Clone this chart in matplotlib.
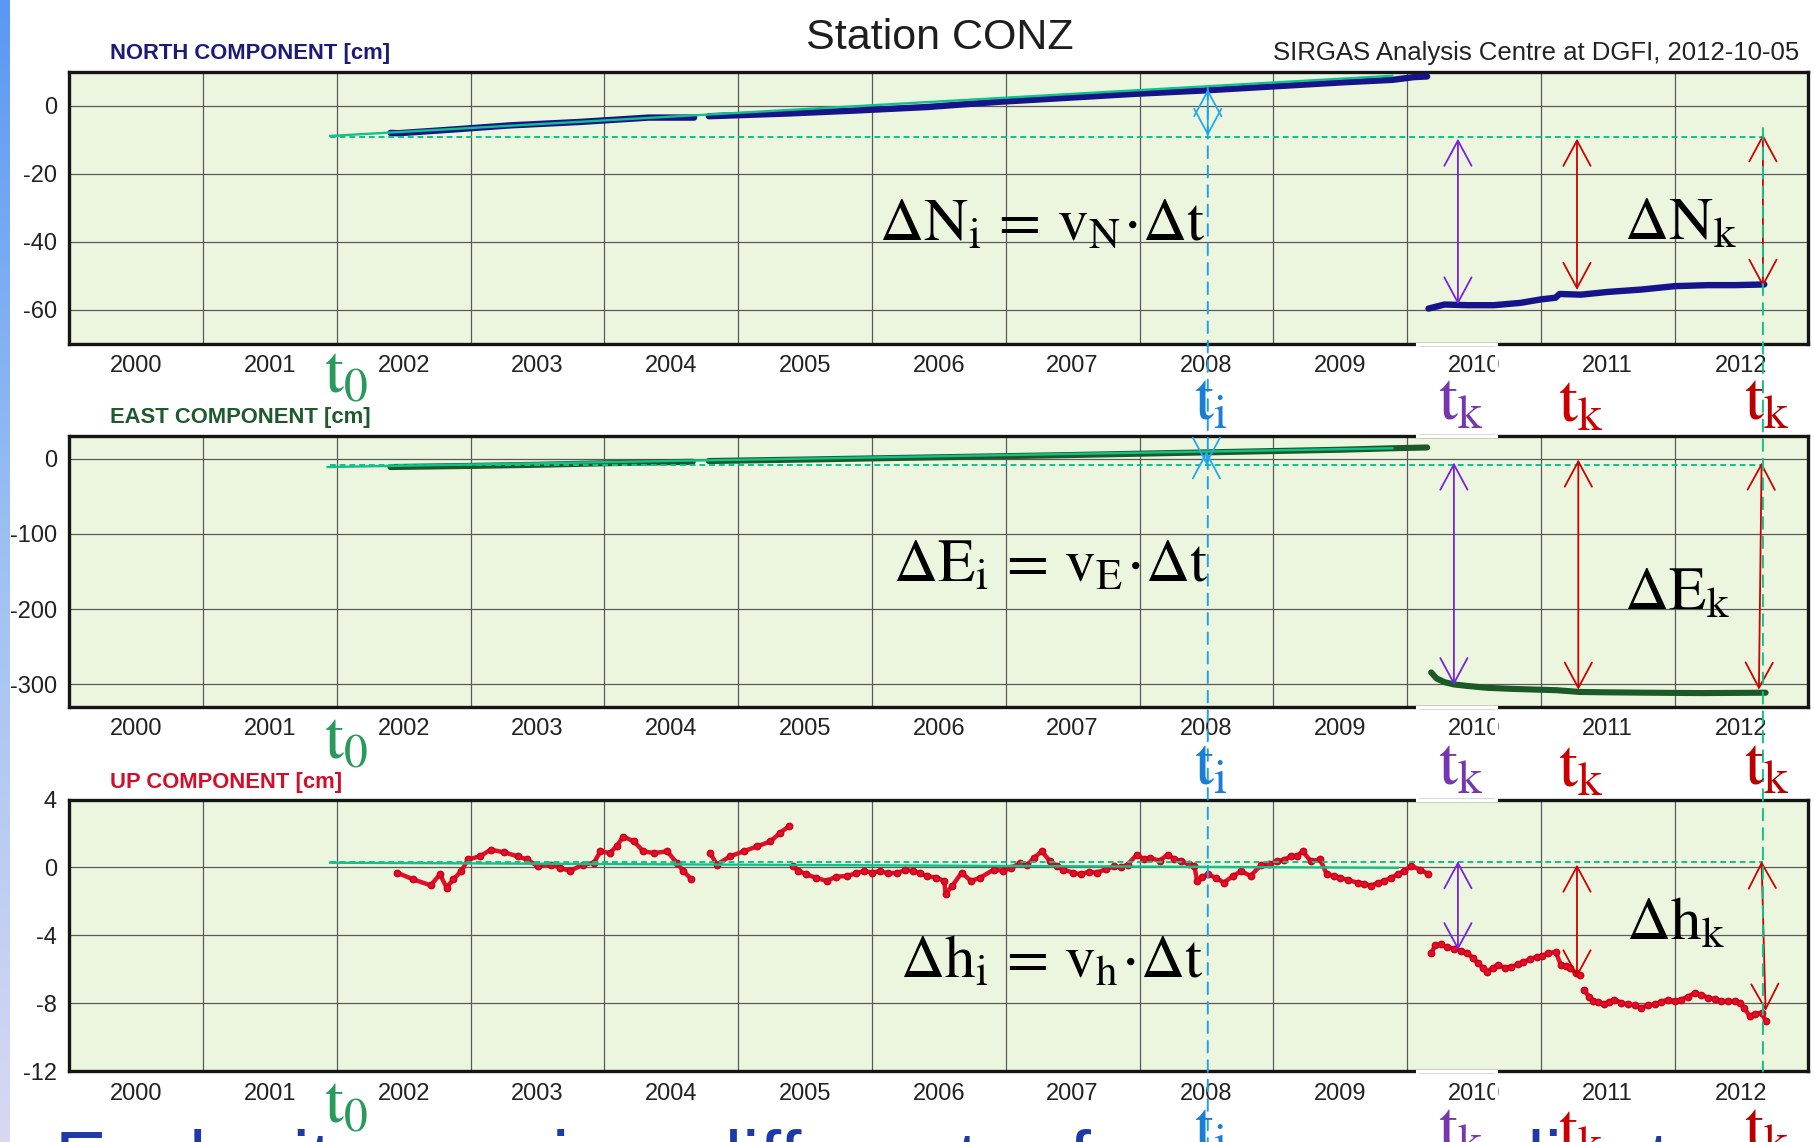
import numpy as np
import matplotlib
matplotlib.use('Agg')
import matplotlib.pyplot as plt
from matplotlib.patches import Rectangle, ConnectionPatch
from matplotlib.ticker import NullFormatter
from matplotlib.colors import LinearSegmentedColormap
import matplotlib.transforms as mtransforms

plt.rcParams['font.family'] = ['Liberation Sans', 'DejaVu Sans']
plt.rcParams['mathtext.fontset'] = 'stix'
plt.rcParams['axes.unicode_minus'] = False

# ---------------- data ----------------
year_labels = [str(y) for y in range(2000, 2013)]

north_t1 = [2002.40, 2002.46, 2002.87, 2003.29, 2003.81, 2004.33, 2004.67]
north_v1 = [-8.0, -8.1, -7.0, -5.8, -4.8, -3.5, -3.5]
north_t2 = [2004.78, 2005.37, 2005.89, 2006.41, 2006.93, 2007.45, 2007.97, 2008.49,
            2009.01, 2009.53, 2009.89, 2010.05, 2010.15]
north_v2 = [-3.1, -2.3, -1.4, -0.4, 1.1, 2.3, 3.5, 4.5, 5.7, 6.9, 7.6, 8.4, 8.6]
north_t3 = [2010.16, 2010.28, 2010.45, 2010.65, 2010.85, 2011.00, 2011.11, 2011.14,
            2011.30, 2011.50, 2011.75, 2012.00, 2012.25, 2012.45, 2012.67]
north_v3 = [-59.7, -58.5, -58.7, -58.7, -58.0, -57.0, -56.5, -55.4,
            -55.6, -54.8, -54.1, -53.1, -52.8, -52.8, -52.6]

east_t1 = [2002.40, 2003.0, 2003.5, 2004.0, 2004.66]
east_v1 = [-11.0, -9.5, -8.0, -6.0, -4.0]
east_t2 = [2004.78, 2005.5, 2006.5, 2007.5, 2008.5, 2009.5, 2009.9, 2010.15]
east_v2 = [-3.0, -1.0, 2.0, 5.0, 8.5, 12.0, 14.0, 15.0]
east_t3 = [2010.18, 2010.22, 2010.28, 2010.35, 2010.45, 2010.60, 2010.80, 2011.12,
           2011.29, 2011.5, 2011.8, 2012.2, 2012.68]
east_v3 = [-284, -292, -297, -300, -302, -304.5, -306, -307.7,
           -310, -310.5, -311, -311.5, -311]

up_t1 = [2002.45, 2002.57, 2002.70, 2002.77, 2002.82, 2002.87, 2002.93, 2002.98, 2003.07,
         2003.15, 2003.25, 2003.35, 2003.42, 2003.50, 2003.60, 2003.67, 2003.74, 2003.84,
         2003.92, 2003.97, 2004.04, 2004.09, 2004.14, 2004.22, 2004.29, 2004.37, 2004.47,
         2004.54, 2004.59, 2004.65]
up_v1 = [-0.31, -0.70, -1.05, -0.41, -1.18, -0.70, -0.21, 0.47, 0.66,
         1.05, 0.89, 0.66, 0.47, 0.08, 0.17, -0.02, -0.21, 0.17,
         0.27, 0.95, 0.85, 1.24, 1.82, 1.53, 0.95, 0.85, 0.95,
         0.27, -0.21, -0.70]
up_t2 = [2004.79, 2004.84, 2004.94, 2005.04, 2005.14, 2005.24, 2005.31, 2005.38]
up_v2 = [0.85, 0.17, 0.66, 0.95, 1.24, 1.53, 2.02, 2.44]
up_t3 = [2005.41, 2005.45, 2005.51, 2005.58, 2005.66, 2005.73, 2005.81, 2005.88, 2005.94,
         2006.00, 2006.06, 2006.12, 2006.19, 2006.25, 2006.31, 2006.36, 2006.41, 2006.48,
         2006.54, 2006.55, 2006.60, 2006.67, 2006.74, 2006.81, 2006.91, 2006.98, 2007.04,
         2007.11, 2007.16, 2007.21, 2007.27, 2007.33, 2007.38, 2007.43, 2007.50, 2007.56,
         2007.62, 2007.68, 2007.75, 2007.81, 2007.86, 2007.91, 2007.98, 2008.03, 2008.08,
         2008.15, 2008.21, 2008.26, 2008.31, 2008.37, 2008.41, 2008.43, 2008.47, 2008.51,
         2008.57, 2008.63, 2008.70, 2008.76, 2008.83, 2008.91, 2008.97, 2009.03, 2009.08,
         2009.13, 2009.18, 2009.22, 2009.28, 2009.35, 2009.40, 2009.45, 2009.50, 2009.56,
         2009.63, 2009.68, 2009.73, 2009.78, 2009.83, 2009.88, 2009.93, 2009.98, 2010.03,
         2010.10, 2010.16]
up_v3 = [0.08, -0.20, -0.41, -0.60, -0.79, -0.55, -0.50, -0.35, -0.21,
         -0.30, -0.21, -0.35, -0.31, -0.15, -0.21, -0.35, -0.50, -0.60,
         -0.79, -1.57, -1.08, -0.31, -0.79, -0.60, -0.12, -0.20, -0.02,
         0.27, 0.15, 0.56, 0.95, 0.37, 0.10, -0.12, -0.30, -0.41,
         -0.25, -0.31, -0.10, 0.08, 0.00, 0.17, 0.75, 0.50, 0.56,
         0.40, 0.75, 0.50, 0.37, 0.20, 0.08, -0.79, -0.55, -0.41,
         -0.60, -0.89, -0.50, -0.21, -0.50, 0.17, 0.20, 0.37, 0.45,
         0.66, 0.70, 0.95, 0.37, 0.47, -0.41, -0.50, -0.60, -0.75,
         -0.89, -0.95, -1.08, -0.90, -0.79, -0.60, -0.41, -0.20, 0.08,
         -0.12, -0.41]
up_t4 = [2010.18, 2010.21, 2010.25, 2010.30, 2010.35, 2010.40, 2010.45, 2010.49, 2010.53,
         2010.57, 2010.60, 2010.64, 2010.68, 2010.73, 2010.78, 2010.83, 2010.87, 2010.92,
         2010.97, 2011.01, 2011.05, 2011.11, 2011.15, 2011.19, 2011.22, 2011.26, 2011.29]
up_v4 = [-5.06, -4.57, -4.53, -4.70, -4.77, -4.90, -5.06, -5.30, -5.64,
         -5.90, -6.13, -5.90, -5.74, -5.90, -5.84, -5.70, -5.55, -5.40,
         -5.25, -5.20, -5.06, -4.96, -5.74, -5.80, -5.93, -6.20, -6.32]
up_t5 = [2011.32, 2011.36, 2011.39, 2011.43, 2011.47, 2011.51, 2011.55, 2011.60, 2011.65,
         2011.70, 2011.75, 2011.80, 2011.85, 2011.90, 2011.95, 2012.00, 2012.05, 2012.10,
         2012.15, 2012.20, 2012.25, 2012.30, 2012.35, 2012.40, 2012.45, 2012.49, 2012.52,
         2012.56, 2012.60, 2012.65, 2012.68]
up_v5 = [-7.20, -7.60, -7.87, -7.90, -8.06, -7.90, -7.77, -7.95, -8.06,
         -8.10, -8.26, -8.10, -8.06, -7.90, -7.77, -7.85, -7.77, -7.60,
         -7.38, -7.50, -7.67, -7.75, -7.87, -7.85, -7.87, -8.00, -8.26,
         -8.74, -8.60, -8.55, -9.03]

# trend (solid) and reference level (dashed) lines
trend_t = {'N': [2001.95, 2009.89], 'E': [2001.93, 2009.89], 'U': [2001.95, 2009.93]}
trend_v = {'N': [-8.9, 8.8], 'E': [-11.0, 14.0], 'U': [0.28, -0.02]}
ref_t = [2001.95, 2012.66]
ref_v = {'N': -9.3, 'E': -8.5, 'U': 0.35}

t_i = 2008.51
t_end = 2012.66

# double arrows: (x_top, y_top, x_bottom, y_bottom, colour)
arrows = {
    'N': [(2008.51, 4.9, 2008.51, -8.9, '#22aaee'),
          (2010.38, -9.7, 2010.38, -58.5, '#7a22e0'),
          (2011.27, -9.7, 2011.27, -54.2, '#d00000'),
          (2012.66, -8.4, 2012.66, -53.3, '#d00000')],
    'E': [(2008.50, 10.0, 2008.50, -8.0, '#22aaee'),
          (2010.35, -5.0, 2010.35, -301.0, '#7a22e0'),
          (2011.28, -1.0, 2011.28, -307.0, '#d00000'),
          (2012.65, -5.0, 2012.63, -307.0, '#d00000')],
    'U': [(2010.38, 0.37, 2010.38, -4.87, '#7a22e0'),
          (2011.27, 0.17, 2011.27, -6.47, '#d00000'),
          (2012.65, 0.37, 2012.68, -8.45, '#d00000')],
}

# ---------------- figure ----------------
W, H = 1814, 1142
fig = plt.figure(figsize=(W / 100, H / 100), dpi=100)
fig.patch.set_facecolor('white')


def fx(x):
    return x / W


def fy(y):
    return 1 - y / H


boxes = {'N': (69.4, 71.7, 1808.4, 343.6),
         'E': (69.4, 436.2, 1808.4, 707.0),
         'U': (69.4, 799.5, 1808.4, 1071.4)}
ylims = {'N': (-70, 10), 'E': (-330, 30), 'U': (-12, 4)}
yticks = {'N': [0, -20, -40, -60], 'E': [0, -100, -200, -300], 'U': [4, 0, -4, -8, -12]}

axes = {}
for key, (l, t, r, b) in boxes.items():
    ax = fig.add_axes([fx(l), fy(b), (r - l) / W, (b - t) / H])
    ax.set_facecolor('#ecf6df')
    ax.set_xlim(2000, 2013)
    ax.set_ylim(*ylims[key])
    ax.set_xticks(np.arange(2001, 2013))
    ax.xaxis.set_major_formatter(NullFormatter())
    ax.set_xticks(np.arange(2000.5, 2013, 1), labels=year_labels, minor=True)
    ax.set_yticks(yticks[key], labels=[str(v) for v in yticks[key]])
    ax.grid(True, which='major', color='#5a5a5a', lw=0.9)
    ax.tick_params(axis='x', which='both', length=0, pad=8, labelsize=17, labelcolor='#222222')
    ax.tick_params(axis='y', length=0, pad=9, labelsize=17, labelcolor='#222222')
    for s in ax.spines.values():
        s.set_linewidth(2.4)
        s.set_color('#151515')
    axes[key] = ax

axN, axE, axU = axes['N'], axes['E'], axes['U']

# data series
for tt, vv in [(north_t1, north_v1), (north_t2, north_v2), (north_t3, north_v3)]:
    axN.plot(tt, vv, color='#15148a', lw=4.6, solid_capstyle='round', zorder=3)
for tt, vv in [(east_t1, east_v1), (east_t2, east_v2), (east_t3, east_v3)]:
    axE.plot(tt, vv, color='#1b5a28', lw=4.4, solid_capstyle='round', zorder=3)
for tt, vv in [(up_t1, up_v1), (up_t2, up_v2), (up_t3, up_v3), (up_t4, up_v4), (up_t5, up_v5)]:
    axU.plot(tt, vv, color='#e01028', lw=3.2, marker='o', ms=4.6, mec='#cc0018',
             mfc='#e01028', zorder=3)

for key, ax in axes.items():
    ax.plot(trend_t[key], trend_v[key], color='#12c08a', lw=1.7, zorder=4)
    ax.plot(ref_t, [ref_v[key]] * 2, color='#12c08a', lw=1.4, ls=(0, (3, 2)), zorder=4)
    for x0, y0, x1, y1, c in arrows[key]:
        ax.annotate('', xy=(x1, y1), xytext=(x0, y0),
                    arrowprops=dict(arrowstyle='<->,head_length=1.3,head_width=0.7',
                                    color=c, lw=1.3, shrinkA=0, shrinkB=0,
                                    mutation_scale=14),
                    annotation_clip=False, zorder=6)

# long vertical dashed lines
trN = mtransforms.blended_transform_factory(axN.transData, fig.transFigure)
cp1 = ConnectionPatch(xyA=(t_i, 5.2), coordsA=axN.transData,
                      xyB=(t_i, 0.0), coordsB=trN,
                      color='#22a0e6', lw=1.4, ls=(0, (6, 4)), zorder=7)
fig.add_artist(cp1)
cp2 = ConnectionPatch(xyA=(t_end, -6.6), coordsA=axN.transData,
                      xyB=(t_end, -12.0), coordsB=axU.transData,
                      color='#12c08a', lw=1.4, ls=(0, (6, 4)), zorder=7)
fig.add_artist(cp2)

# white outline boxes (slide overlay)
for (yt, yb) in [(343.6, 436.2), (707.0, 799.5), (1071.4, 1150)]:
    fig.add_artist(Rectangle((fx(1417), fy(yb)), (1496 - 1417) / W, (yb - yt) / H,
                             transform=fig.transFigure, fill=False, ec='white',
                             lw=2.2, zorder=8))

# left blue strip
sax = fig.add_axes([0, 0, fx(9.5), 1])
grad = np.linspace(0, 1, 256).reshape(-1, 1)
cmap = LinearSegmentedColormap.from_list('strip', ['#5a98f4', '#9fc2f2', '#d8d8f2'])
sax.imshow(grad, aspect='auto', cmap=cmap, extent=[0, 1, 0, 1], origin='upper')
sax.set_axis_off()

# titles and panel labels
fig.text(fx(939.5), fy(48.6), 'Station CONZ', fontsize=31, ha='center', va='baseline',
         color='#1e1e1e')
fig.text(fx(1799), fy(60), 'SIRGAS Analysis Centre at DGFI, 2012-10-05', fontsize=18.5,
         ha='right', va='baseline', color='#222222')
fig.text(fx(110), fy(59), 'NORTH COMPONENT [cm]', fontsize=15.8, fontweight='bold',
         ha='left', va='baseline', color='#1c1c78')
fig.text(fx(110), fy(423.5), 'EAST COMPONENT [cm]', fontsize=15.8, fontweight='bold',
         ha='left', va='baseline', color='#1e5a2c')
fig.text(fx(110), fy(788), 'UP COMPONENT [cm]', fontsize=15.8, fontweight='bold',
         ha='left', va='baseline', color='#d0102a')

# formulas
formulas = [
    (879, 239.5, r'$\Delta\mathrm{N}_\mathrm{i}\,=\,\mathrm{v}_\mathrm{N}\!\cdot\!\Delta\mathrm{t}$'),
    (1624, 239.5, r'$\Delta\mathrm{N}_\mathrm{k}$'),
    (893, 582, r'$\Delta\mathrm{E}_\mathrm{i}\,=\,\mathrm{v}_\mathrm{E}\!\cdot\!\Delta\mathrm{t}$'),
    (1624, 610, r'$\Delta\mathrm{E}_\mathrm{k}$'),
    (900, 978, r'$\Delta\mathrm{h}_\mathrm{i}\,=\,\mathrm{v}_\mathrm{h}\!\cdot\!\Delta\mathrm{t}$'),
    (1626, 940, r'$\Delta\mathrm{h}_\mathrm{k}$'),
]
for x, y, s in formulas:
    fig.text(fx(x), fy(y), s, fontsize=44, ha='left', va='baseline', color='black', zorder=9)

# time labels under each panel
tlabels = [(324, r'$\mathrm{t}_0$', '#2a9a5c', 0),
           (1194, r'$\mathrm{t}_\mathrm{i}$', '#1a7ed4', 26),
           (1438, r'$\mathrm{t}_\mathrm{k}$', '#7636b0', 26),
           (1558, r'$\mathrm{t}_\mathrm{k}$', '#cc0000', 28),
           (1744, r'$\mathrm{t}_\mathrm{k}$', '#b80000', 26)]
for base in [393, 758, 1122]:
    for x, s, c, dy in tlabels:
        fig.text(fx(x), fy(base + dy), s, fontsize=49, ha='left', va='baseline', color=c,
                 zorder=9)

# cut-off slide text at the bottom
fig.text(fx(55), fy(1186), 'Each site requires different reference coordinates', fontsize=56,
         ha='left', va='baseline', color='#1f3aa8', zorder=8)

fig.savefig('out.png', dpi=100, facecolor='white')
